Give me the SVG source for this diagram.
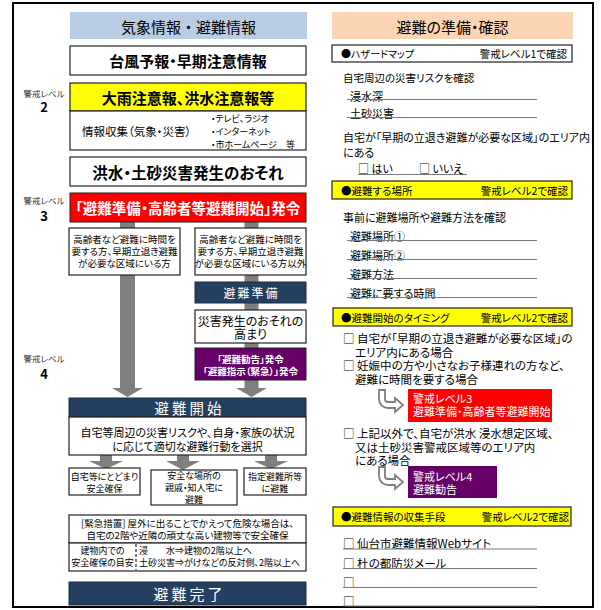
<svg xmlns="http://www.w3.org/2000/svg" width="601" height="610" viewBox="0 0 601 610">
<style>
.t{font-family:"Noto Sans CJK JP","Noto Sans",sans-serif;font-feature-settings:"palt";dominant-baseline:central;fill:#000}
.m{text-anchor:middle}
.e{text-anchor:end}
.b{font-weight:bold}
.w{fill:#fff}
.box{fill:#fff;stroke:#222;stroke-width:1.2}
.navy{fill:#243f60;stroke:#1a2c44;stroke-width:1}
.yel{fill:#ffff00;stroke:#222;stroke-width:1.2}
.ul{stroke:#7a7a7a;stroke-width:1}
.gr{fill:#7f7f7f}
.lv{font-size:8.5px;fill:#333}
.lvn{font-size:13px;font-weight:bold}
</style>
<defs>
<path id="curl" d="M379,390 V399 A9,9 0 0 0 388,408 H395 V412 L403,405 L395,398 V402 H388 A3,3 0 0 1 385,399 V390 Z" fill="#fff" stroke="#7f7f7f" stroke-width="1.8"/>
</defs>
<rect x="13" y="3" width="580" height="604" fill="#fff" stroke="#000" stroke-width="2"/>

<!-- level labels -->
<g id="level2"><text class="t lv m" x="44" y="93">警戒レベル</text><text class="t lvn m" x="44" y="106">2</text></g>
<g id="level3"><text class="t lv m" x="44" y="200">警戒レベル</text><text class="t lvn m" x="44" y="215">3</text></g>
<g id="level4"><text class="t lv m" x="44" y="358">警戒レベル</text><text class="t lvn m" x="44" y="373">4</text></g>

<!-- connectors -->
<g id="connectors">
<rect class="gr" x="120" y="222" width="15" height="167"/>
<polygon class="gr" points="112,388 143,388 127.5,397"/>
<rect class="gr" x="244.5" y="222" width="14" height="167"/>
<polygon class="gr" points="236,388 267,388 251.5,397"/>
<rect class="gr" x="100" y="455" width="12" height="7"/>
<polygon class="gr" points="89,461 123,461 106,469"/>
<rect class="gr" x="177" y="455" width="12" height="7"/>
<polygon class="gr" points="166,461 200,461 183,470"/>
<rect class="gr" x="265" y="455" width="12" height="7"/>
<polygon class="gr" points="254,461 288,461 271,469"/>
<use href="#curl"/>
<use href="#curl" transform="translate(0,77)"/>
</g>

<!-- left column -->
<g id="left-header">
<rect x="70" y="12" width="237" height="27" fill="#b8cce4"/>
<text class="t m" x="188.5" y="26" font-size="15" style="font-feature-settings:normal">気象情報・避難情報</text>
</g>
<g id="typhoon">
<rect class="box" x="70" y="46" width="236" height="29"/>
<text class="t m b" x="188" y="60.5" font-size="15">台風予報・早期注意情報</text>
</g>
<g id="heavy-rain">
<rect class="yel" x="70" y="83" width="236" height="28"/>
<text class="t m b" x="188" y="97" font-size="15">大雨注意報、洪水注意報等</text>
</g>
<g id="info-collect">
<rect class="box" x="70" y="111" width="236" height="39"/>
<text class="t" x="82" y="131" font-size="11.5">情報収集（気象・災害）</text>
<text class="t" x="211" y="118" font-size="9">・テレビ、ラジオ</text>
<text class="t" x="211" y="131" font-size="9">・インターネット</text>
<text class="t" x="211" y="144" font-size="9">・市ホームページ　等</text>
</g>
<g id="risk">
<rect class="box" x="70" y="157" width="236" height="29"/>
<text class="t m b" x="188" y="171.5" font-size="15.5">洪水・土砂災害発生のおそれ</text>
</g>
<g id="level3-order">
<rect x="70" y="193" width="236" height="29" fill="#ff0000" stroke="#222" stroke-width="1"/>
<text class="t m b w" x="188" y="207.5" font-size="14.5">「避難準備・高齢者等避難開始」発令</text>
</g>
<g id="elderly">
<rect class="box" x="69" y="228" width="111" height="47"/>
<text class="t m" x="124.5" y="239" font-size="9.5">高齢者など避難に時間を</text>
<text class="t m" x="124.5" y="251" font-size="9.5">要する方、早期立退き避難</text>
<text class="t m" x="124.5" y="263" font-size="9.5">が必要な区域にいる方</text>
</g>
<g id="others">
<rect class="box" x="195" y="228" width="111" height="47"/>
<text class="t m" x="250.5" y="239" font-size="9.5">高齢者など避難に時間を</text>
<text class="t m" x="250.5" y="251" font-size="9.5">要する方、早期立退き避難</text>
<text class="t m" x="250.5" y="263" font-size="9.5">が必要な区域にいる方以外</text>
</g>
<g id="prep">
<rect class="navy" x="195" y="282" width="111" height="21"/>
<text class="t m w" x="251.5" y="292.5" font-size="12" letter-spacing="2">避難準備</text>
</g>
<g id="rising">
<rect class="box" x="195" y="310" width="111" height="33"/>
<text class="t m" x="250.5" y="320" font-size="12">災害発生のおそれの</text>
<text class="t m" x="250.5" y="333" font-size="12">高まり</text>
</g>
<g id="level4-order">
<rect x="195" y="348" width="111" height="32" fill="#660066" stroke="#222" stroke-width="1"/>
<text class="t m b w" x="250.5" y="358.5" font-size="9.5">「避難勧告」発令</text>
<text class="t m b w" x="250.5" y="371" font-size="9.5">「避難指示（緊急）」発令</text>
</g>
<g id="start">
<rect class="navy" x="69" y="398" width="237" height="19"/>
<text class="t m w" x="189.5" y="407.5" font-size="14.5" letter-spacing="3">避難開始</text>
<rect class="box" x="69" y="417" width="237" height="38"/>
<text class="t m" x="187.5" y="432" font-size="11">自宅等周辺の災害リスクや、自身・家族の状況</text>
<text class="t m" x="187.5" y="446" font-size="11">に応じて適切な避難行動を選択</text>
</g>
<g id="stay">
<rect class="box" x="69" y="468" width="71" height="27"/>
<text class="t m" x="104.5" y="476" font-size="9">自宅等にとどまり</text>
<text class="t m" x="104.5" y="488" font-size="9">安全確保</text>
</g>
<g id="relatives">
<rect class="box" x="151" y="470" width="86" height="35"/>
<text class="t m" x="194" y="475" font-size="9">安全な場所の</text>
<text class="t m" x="194" y="487" font-size="9">親戚・知人宅に</text>
<text class="t m" x="194" y="499" font-size="9">避難</text>
</g>
<g id="shelter">
<rect class="box" x="244" y="468" width="62" height="27"/>
<text class="t m" x="275" y="476" font-size="9">指定避難所等</text>
<text class="t m" x="275" y="488" font-size="9">に避難</text>
</g>
<g id="emergency">
<rect class="box" x="69" y="515" width="237" height="28"/>
<text class="t m" x="187.5" y="523" font-size="9.5">[緊急措置]  屋外に出ることでかえって危険な場合は、</text>
<text class="t m" x="187.5" y="535" font-size="9.5">自宅の2階や近隣の頑丈な高い建物等で安全確保</text>
<rect class="box" x="69" y="543" width="237" height="28"/>
<line x1="136" y1="544" x2="136" y2="570" stroke="#000" stroke-width="1" stroke-dasharray="3,2"/>
<text class="t m" x="102.5" y="550" font-size="9">建物内での</text>
<text class="t m" x="102.5" y="562" font-size="9">安全確保の目安</text>
<text class="t" x="139" y="550" font-size="9">浸　　水⇒建物の2階以上へ</text>
<text class="t" x="139" y="562" font-size="9">土砂災害⇒がけなどの反対側、2階以上へ</text>
</g>
<g id="done">
<rect class="navy" x="69" y="582" width="237" height="23"/>
<text class="t m w" x="189.5" y="593.5" font-size="15" letter-spacing="3">避難完了</text>
</g>

<!-- right column -->
<g id="right-header">
<rect x="332" y="12" width="241" height="27" fill="#fcd5b4"/>
<text class="t m" x="452.5" y="26" font-size="15">避難の準備・確認</text>
</g>
<g id="hazard">
<rect class="box" x="332" y="45" width="240" height="17"/>
<text class="t" x="341" y="53.5" font-size="10">●ハザードマップ</text>
<text class="t e" x="567" y="53.5" font-size="10.5">警戒レベル1で確認</text>
<text class="t" x="343" y="77" font-size="10.5">自宅周辺の災害リスクを確認</text>
<text class="t" x="350" y="96" font-size="11">浸水深</text>
<line class="ul" x1="347" y1="99.5" x2="537" y2="99.5"/>
<text class="t" x="350" y="113" font-size="11">土砂災害</text>
<line class="ul" x1="347" y1="117.5" x2="537" y2="117.5"/>
<text class="t" x="343" y="137" font-size="11">自宅が「早期の立退き避難が必要な区域」のエリア内</text>
<text class="t" x="343" y="152" font-size="11">にある</text>
<text class="t" x="358" y="168" font-size="11">□ はい</text>
<text class="t" x="419" y="168" font-size="11">□ いいえ</text>
<line class="ul" x1="358" y1="174.5" x2="467" y2="174.5"/>
</g>
<g id="place">
<rect class="yel" x="332" y="181" width="240" height="18"/>
<text class="t" x="341" y="190" font-size="10.5">●避難する場所</text>
<text class="t e" x="568" y="190" font-size="10.5">警戒レベル2で確認</text>
<text class="t" x="343" y="217" font-size="11">事前に避難場所や避難方法を確認</text>
<text class="t" x="350" y="236" font-size="11">避難場所①</text>
<line class="ul" x1="347" y1="240.5" x2="537" y2="240.5"/>
<text class="t" x="350" y="255" font-size="11">避難場所②</text>
<line class="ul" x1="347" y1="259.5" x2="537" y2="259.5"/>
<text class="t" x="350" y="274" font-size="11">避難方法</text>
<line class="ul" x1="347" y1="278.5" x2="537" y2="278.5"/>
<text class="t" x="350" y="293" font-size="11">避難に要する時間</text>
<line class="ul" x1="347" y1="297.5" x2="537" y2="297.5"/>
</g>
<g id="timing">
<rect class="yel" x="333" y="308" width="239" height="18"/>
<text class="t" x="341" y="317" font-size="10.5">●避難開始のタイミング</text>
<text class="t e" x="568" y="317" font-size="10.5">警戒レベル2で確認</text>
<text class="t" x="343" y="338" font-size="11.5">□ 自宅が「早期の立退き避難が必要な区域」の</text>
<text class="t" x="355" y="352" font-size="11.5">エリア内にある場合</text>
<text class="t" x="343" y="365" font-size="11.5">□ 妊娠中の方や小さなお子様連れの方など、</text>
<text class="t" x="355" y="379" font-size="11.5">避難に時間を要する場合</text>
<rect x="408" y="389" width="144" height="33" fill="#ff0000"/>
<text class="t w" x="413" y="398" font-size="11">警戒レベル3</text>
<text class="t w" x="413" y="411" font-size="11">避難準備・高齢者等避難開始</text>
<text class="t" x="343" y="433" font-size="11.5">□ 上記以外で、自宅が洪水 浸水想定区域、</text>
<text class="t" x="355" y="447" font-size="11.5">又は土砂災害警戒区域等のエリア内</text>
<text class="t" x="355" y="460" font-size="11.5">にある場合</text>
<rect x="408" y="466" width="89" height="32" fill="#660066"/>
<text class="t w" x="413" y="475.5" font-size="11">警戒レベル4</text>
<text class="t w" x="413" y="488.5" font-size="11">避難勧告</text>
</g>
<g id="collect">
<rect class="yel" x="333" y="507" width="238" height="19"/>
<text class="t" x="341" y="516.5" font-size="10.5">●避難情報の収集手段</text>
<text class="t e" x="569" y="516.5" font-size="10.5">警戒レベル2で確認</text>
<text class="t" x="343" y="543" font-size="11.5">□ 仙台市避難情報Webサイト</text>
<line class="ul" x1="343" y1="549" x2="537" y2="549"/>
<text class="t" x="343" y="563" font-size="11.5">□ 杜の都防災メール</text>
<line class="ul" x1="343" y1="568.5" x2="537" y2="568.5"/>
<text class="t" x="343" y="582" font-size="11.5">□</text>
<line class="ul" x1="343" y1="587.5" x2="537" y2="587.5"/>
<text class="t" x="343" y="601" font-size="11.5">□</text>
<line class="ul" x1="343" y1="606" x2="537" y2="606"/>
</g>
</svg>
